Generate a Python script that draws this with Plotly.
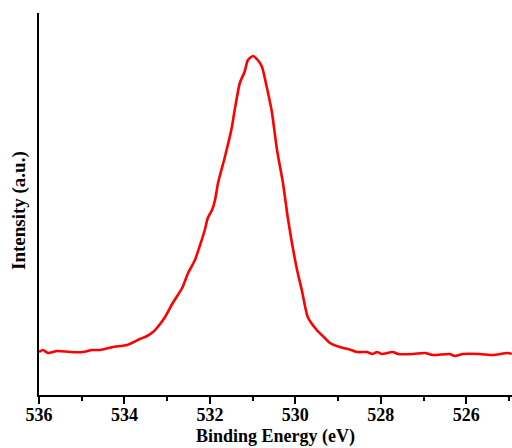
import plotly.graph_objects as go

binding_energy = [536.00, 535.91, 535.79, 535.58, 535.27, 534.97, 534.76, 534.57, 534.27, 533.94,
                  533.64, 533.47, 533.33, 533.24, 533.05, 532.87, 532.65, 532.51, 532.35, 532.23,
                  532.12, 532.05, 531.95, 531.88, 531.81, 531.65, 531.49, 531.42, 531.30, 531.19,
                  531.11, 530.99, 530.88, 530.78, 530.67, 530.55, 530.43, 530.29, 530.18, 530.08,
                  529.96, 529.85, 529.71, 529.50, 529.31, 529.19, 528.96, 528.77, 528.56, 528.33,
                  528.19, 528.09, 527.98, 527.72, 527.60, 527.25, 526.97, 526.78, 526.39, 526.27,
                  526.08, 525.68, 525.38, 525.03, 524.94]
intensity = [43, 45, 42, 44, 43, 43, 45, 45, 48, 50,
             56, 59, 63, 67, 78, 92, 107, 122, 135, 150,
             165, 177, 185, 195, 212, 238, 267, 285, 312, 323,
             335, 339, 335, 328, 308, 283, 245, 212, 178, 152,
             125, 105, 78, 65, 57, 52, 48, 46, 43, 43,
             41, 43, 41, 43, 41, 41, 42, 40, 41, 39,
             41, 41, 40, 42, 41]
tick_values = [536, 534, 532, 530, 528, 526]
tick_labels = ["<b>%d</b>" % v for v in tick_values]

font_family = "Liberation Serif, Times New Roman, serif"

fig = go.Figure()
fig.add_trace(go.Scatter(x=binding_energy, y=intensity, mode="lines",
                         line=dict(color="#ff0000", width=2.6, shape="spline", smoothing=0.6),
                         showlegend=False))

fig.update_layout(
    width=512, height=448,
    margin=dict(l=39, r=0, t=13, b=53),
    paper_bgcolor="white", plot_bgcolor="white",
    font=dict(family=font_family, color="black"),
)
fig.update_xaxes(
    range=[536, 524.93], showgrid=False, zeroline=False,
    showline=True, linecolor="black", linewidth=2,
    ticks="outside", ticklen=7, tickwidth=2, tickcolor="black",
    tickmode="array", tickvals=tick_values, ticktext=tick_labels,
    ticklabelstandoff=-5,
    tickfont=dict(size=18, family=font_family, color="black"),
    minor=dict(ticks="outside", ticklen=4, tickwidth=2, tickcolor="black", dtick=1, tick0=0, showgrid=False),
)
fig.update_yaxes(
    range=[0, 382], showgrid=False, zeroline=False,
    showline=True, linecolor="black", linewidth=2,
    showticklabels=False, ticks="",
)
fig.add_annotation(text="<b>Binding Energy (eV)</b>", xref="paper", yref="paper",
                   x=0.5, y=-0.108, xanchor="center", yanchor="middle", showarrow=False,
                   font=dict(size=18, family=font_family, color="black"))
fig.add_annotation(text="<b>Intensity (a.u.)</b>", xref="paper", yref="paper",
                   x=-0.042, y=0.482, xanchor="center", yanchor="middle", showarrow=False,
                   textangle=-90, font=dict(size=19, family=font_family, color="black"))

fig.write_html("out.html")
